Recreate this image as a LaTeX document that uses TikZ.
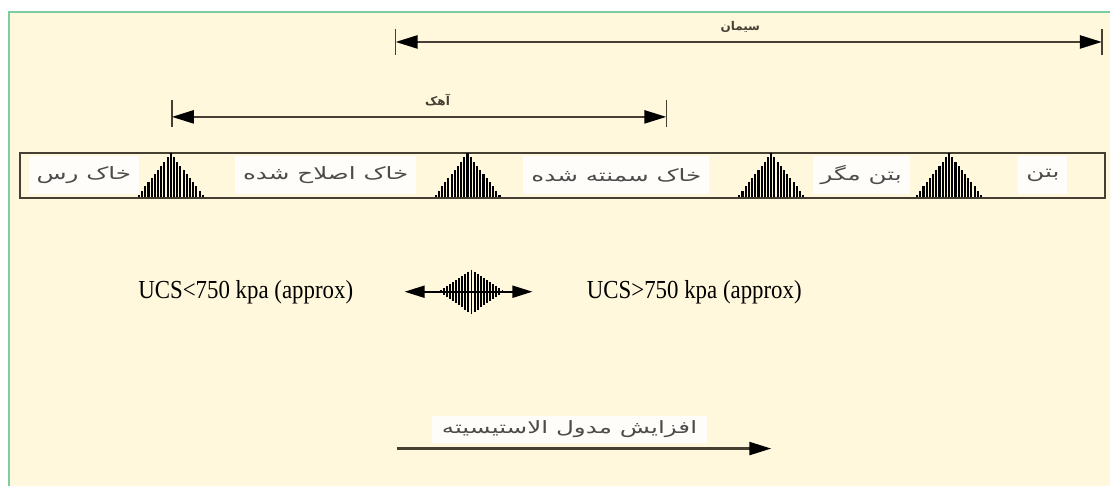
\documentclass[tikz,border=0pt]{standalone}
\usepackage{fontspec}
\setmainfont{Liberation Serif}
\newfontfamily\fa[Script=Arabic]{DejaVu Sans}
\TeXXeTstate=1
\usetikzlibrary{arrows.meta}

\definecolor{paper}{RGB}{255,248,220}
\definecolor{frame}{RGB}{125,205,160}
\definecolor{ink}{RGB}{70,64,52}
\definecolor{txt}{RGB}{75,75,75}

% Persian labels are set in a widened face
\newcommand{\wide}[1]{\scalebox{1.45}[1]{\beginR #1\endR}}

\tikzset{
  tip/.tip={Triangle[length=22pt,width=13pt,color=black]},
  dimline/.style={draw=ink, line width=2.4pt, {tip}-{tip}},
  tick/.style={draw=ink, line width=1.4pt},
  dimlabel/.style={font=\fa\bfseries\fontsize{12}{14}\selectfont, text=ink, inner sep=1pt},
  layer/.style={fill=white, fill opacity=0.85, text opacity=1, text=txt, font=\fa\fontsize{17}{20}\selectfont, inner xsep=8pt, minimum height=38pt},
  ucs/.style={font=\fontsize{26}{30}\selectfont, text=black, inner sep=0pt},
  hatch/.style={draw=black, line width=2.1pt},
  tri/.pic={
    \foreach \i in {-10,...,10} {
      \pgfmathsetmacro{\d}{\i*3.2}
      \pgfmathsetmacro{\h}{44*(1-abs(\d)/34)}
      \draw[hatch] (\d,22) -- (\d,22-\h);
    }
  },
  diamond/.pic={
    \foreach \i in {-10,...,10} {
      \pgfmathsetmacro{\d}{\i*3.1}
      \pgfmathsetmacro{\h}{22*(1-abs(\d)/33)}
      \draw[hatch, line width=1.9pt] (\d,-\h) -- (\d,\h);
    }
  }
}

\begin{document}
\begin{tikzpicture}[x=1pt,y=-1pt]
  % page and framed panel
  \path[fill=white] (0,0) rectangle (1111,486);
  \path[fill=paper] (9,12) rectangle (1111,486);
  \draw[frame, line width=2.2pt] (9,486) -- (9,12) -- (1111,12);
  \useasboundingbox (0,0) rectangle (1111,486);

  % cement range
  \coordinate (c1) at (396,42);
  \coordinate (c2) at (1103,42);
  \draw[tick] ([yshift=-13pt]c1) -- ([yshift=13pt]c1);
  \draw[tick] ([yshift=-13pt]c2) -- ([yshift=13pt]c2);
  \draw[dimline] (c1) -- (c2);
  \node[dimlabel] (cement) at (741,27) {\beginR سیمان\endR};

  % lime range
  \coordinate (l1) at (172,117);
  \coordinate (l2) at (667,117);
  \draw[tick] ([yshift=-10pt]l1) -- ([yshift=17pt]l1);
  \draw[tick] ([yshift=-10pt]l2) -- ([yshift=17pt]l2);
  \draw[dimline] (l1) -- (l2);
  \node[dimlabel] (lime) at (438,100) {\beginR آهک\endR};

  % layer bar
  \node[draw=ink, line width=2pt, minimum width=1086pt, minimum height=45pt, inner sep=0pt] (bar) at (563,175.5) {};
  \foreach \x in {171,468,772,950} \pic at (\x,175.5) {tri};

  \node[layer] (clay)     at (84,175.5)   {\wide{خاک رس}};
  \node[layer] (improved) at (326,175.5)  {\wide{خاک اصلاح شده}};
  \node[layer] (cemented) at (617,175.5)  {\wide{خاک سمنته شده}};
  \node[layer] (lean)     at (862,175.5)  {\wide{بتن مگر}};
  \node[layer] (concrete) at (1044,175.5) {\wide{بتن}};

  % strength transition
  \node[ucs] (low)  at (246,293) {\scalebox{0.88}[1]{UCS<750 kpa (approx)}};
  \node[ucs] (high) at (695,293) {\scalebox{0.88}[1]{UCS>750 kpa (approx)}};
  \coordinate (a1) at (405,292);
  \coordinate (a2) at (533,292);
  \pic at (472,292) {diamond};
  \draw[draw=black, line width=1.8pt, {Triangle[length=20pt,width=12pt]}-{Triangle[length=20pt,width=12pt]}] (a1) -- (a2);

  % stiffness trend
  \coordinate (s1) at (397,449);
  \coordinate (s2) at (772,449);
  \draw[draw=ink, line width=2.4pt, -{tip}] (s1) -- (s2);
  \node[layer, minimum height=27pt, inner xsep=10pt] (modulus) at (570,430) {\wide{افزایش مدول الاستیسیته}};
\end{tikzpicture}
\end{document}
